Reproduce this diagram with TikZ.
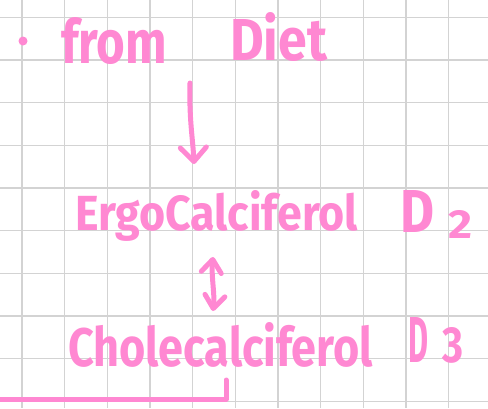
\documentclass[tikz,border=0pt]{standalone}
\usepackage{fontspec}
\setmainfont{Fira Sans}
\usepackage{graphicx}
\usetikzlibrary{arrows.meta}
\definecolor{ink}{HTML}{FF88D2}
\definecolor{gridc}{HTML}{D3D3D3}
\tikzset{
  barb/.tip={Straight Barb[length=14pt,width=26pt,round]},
  sbarb/.tip={Straight Barb[length=13pt,width=20pt,round]},
}
\begin{document}
\begin{tikzpicture}[x=1pt,y=-1pt,
  pen/.style={draw=ink, line width=5pt, line cap=round, line join=round},
  gridline/.style={draw=gridc, line width=1.4pt},
  word/.style={inner sep=0pt, outer sep=0pt, anchor=base west, text=ink, font=\bfseries}]
\useasboundingbox (0,0) rectangle (488,408);
\fill[white] (0,0) rectangle (488,408);
\foreach \i in {0,...,10} \draw[gridline] ({22+42.65*\i},0) -- ({22+42.65*\i},408);
\foreach \j in {0,...,9} \draw[gridline] (0,{17.4+42.65*\j}) -- (488,{17.4+42.65*\j});

% texts
\node[circle, fill=ink, minimum size=9pt, inner sep=0pt] (dot) at (23,41) {};
\node[word] (from) at (61,63) {\resizebox{106pt}{46pt}{from}};
\node[word] (diet) at (230,60) {\resizebox{97pt}{48pt}{Diet}};
\node[word] (ergo) at (75,230) {\resizebox{283pt}{40pt}{ErgoCalciferol}};
\node[word] (dtwo) at (400,232) {\resizebox{34pt}{42pt}{D}\hspace{14pt}\raisebox{-6pt}{\resizebox{24pt}{28pt}{2}}};
\node[word] (chole) at (68,366) {\resizebox{305pt}{44pt}{Cholecalciferol}};
\node[word] (dthree) at (408,362) {\resizebox{20pt}{45pt}{D}\hspace{14pt}\resizebox{21pt}{35pt}{3}};

% arrows
\coordinate (a1s) at (190,83);
\coordinate (a1e) at (194,164);
\draw[pen, -barb] (a1s) .. controls (189,120) and (193,140) .. (a1e);
\coordinate (a2s) at (213,257);
\coordinate (a2e) at (213,311);
\draw[pen, sbarb-sbarb] (a2s) .. controls (211,275) and (215,295) .. (a2e);

% bracket
\coordinate (b0) at (-5,399);
\coordinate (b1) at (226,399);
\coordinate (b2) at (226,380);
\draw[pen] (b0) -- (b1) -- (b2);
\end{tikzpicture}
\end{document}
